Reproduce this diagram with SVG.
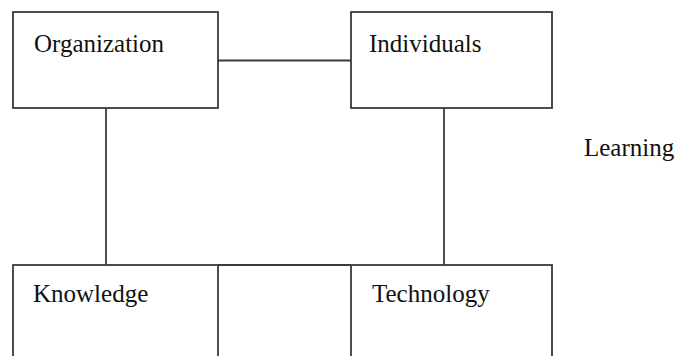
<svg xmlns="http://www.w3.org/2000/svg" width="675" height="356" viewBox="0 0 675 356">
<style>
.box{fill:#fff;stroke:#3a3a3a;stroke-width:1.8}
.ln{stroke:#3a3a3a;stroke-width:1.8;fill:none}
.t{font-family:"Liberation Serif",serif;font-size:25px;fill:#111}
</style>
<rect width="675" height="356" fill="#fff"/>
<g id="connectors">
<line class="ln" x1="218" y1="60.5" x2="351" y2="60.5"/>
<line class="ln" x1="106" y1="108" x2="106" y2="265"/>
<line class="ln" x1="444" y1="108" x2="444" y2="265"/>
<line class="ln" x1="218" y1="265" x2="351" y2="265"/>
</g>
<g id="organization">
<rect class="box" x="13" y="12" width="205" height="96"/>
<text class="t" x="34" y="52">Organization</text>
</g>
<g id="individuals">
<rect class="box" x="351" y="12" width="201" height="96"/>
<text class="t" x="369" y="52">Individuals</text>
</g>
<g id="knowledge">
<rect class="box" x="13" y="265" width="205" height="110"/>
<text class="t" x="33" y="302">Knowledge</text>
</g>
<g id="technology">
<rect class="box" x="351" y="265" width="201" height="110"/>
<text class="t" x="372" y="302">Technology</text>
</g>
<g id="learning">
<text class="t" x="584" y="156">Learning</text>
</g>
</svg>
